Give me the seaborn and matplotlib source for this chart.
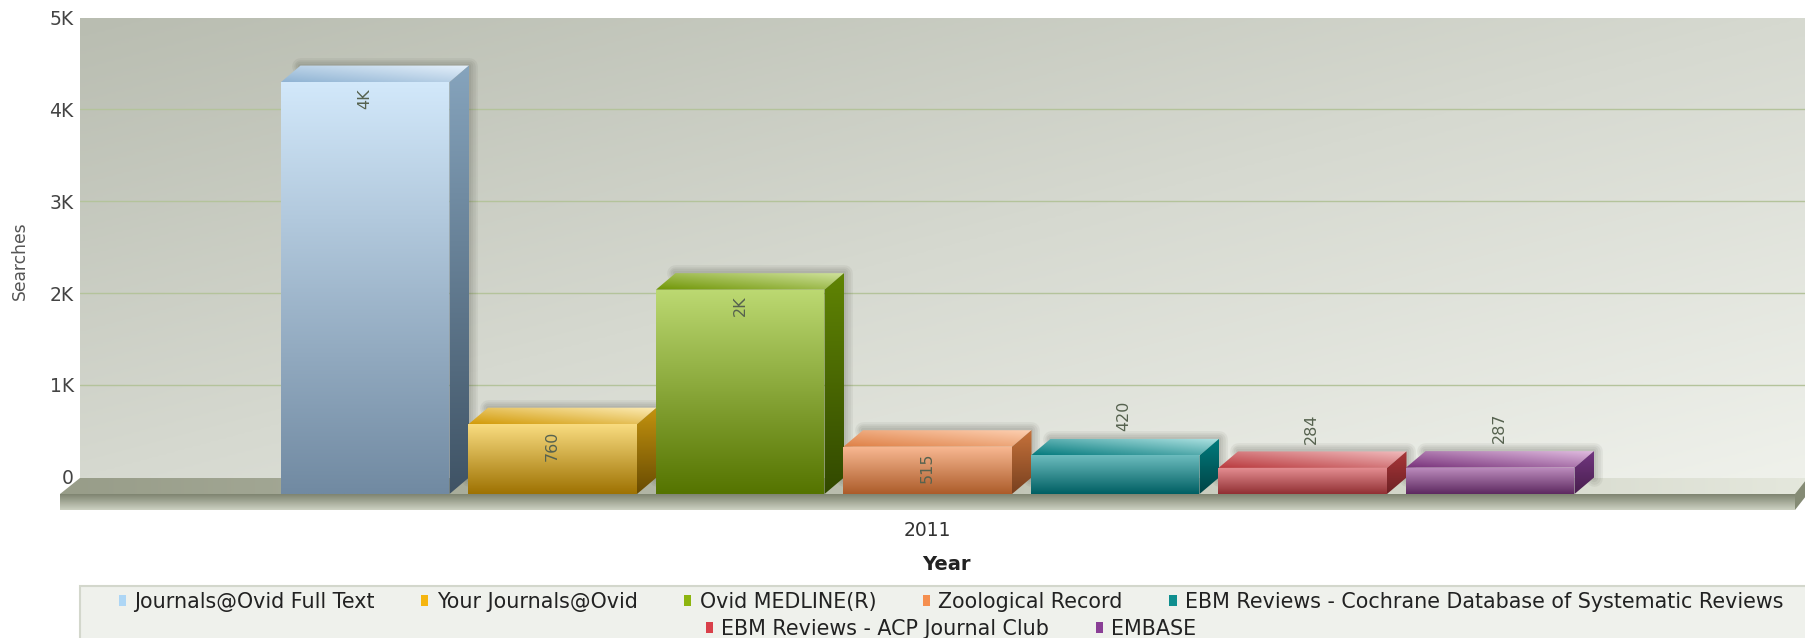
import numpy as np
import pandas as pd
import matplotlib
matplotlib.use("Agg")
import matplotlib.pyplot as plt
import seaborn as sns
from matplotlib.colors import LinearSegmentedColormap
from matplotlib.patches import Patch, Polygon, Rectangle

# Values
series = ["Journals@Ovid Full Text", "Your Journals@Ovid", "Ovid MEDLINE(R)", "Zoological Record",
          "EBM Reviews - Cochrane Database of Systematic Reviews", "EBM Reviews - ACP Journal Club", "EMBASE"]
searches = [4485, 760, 2225, 515, 420, 284, 287]
value_labels = ["4K", "760", "2K", "515", "420", "284", "287"]
year = "2011"
y_ticks = [0, 1000, 2000, 3000, 4000, 5000]
y_tick_labels = ["0", "1K", "2K", "3K", "4K", "5K"]

# Colours: legend, front top/bottom, top face left/right, side top/bottom
legend_colors = ["#add6f5", "#f5b50f", "#8db50f", "#f58f4f", "#0f8f8f", "#d9404a", "#8a3f96"]
front_colors = [("#d2e8fa", "#718aa2"), ("#f9dc80", "#9e7202"), ("#bcd972", "#557400"), ("#f9b993", "#ac5c2a"),
                ("#6cbcbe", "#005f63"), ("#e69094", "#913033"), ("#be8ebf", "#5d2960")]
top_colors = [("#8fb3d3", "#e6f1fb"), ("#d29a08", "#fdedb8"), ("#6f9504", "#cfe29c"), ("#de7f44", "#fdd0b2"),
              ("#047a7d", "#b2e4e4"), ("#b9393d", "#f1bcbe"), ("#773079", "#e0bce0")]
side_colors = [("#86a4bd", "#3f5365"), ("#c4930f", "#684b02"), ("#608404", "#324900"), ("#c6723b", "#78401f"),
               ("#007c7e", "#004345"), ("#aa3639", "#6d2124"), ("#723680", "#481f4e")]

W, H = 1806, 638
sns.set_theme(style="white")
plt.rcParams["font.family"] = ["DejaVu Sans"]
fig = plt.figure(figsize=(W / 100, H / 100), dpi=100, facecolor="white")


def px_axes(left, top, right, bottom, **kw):
    return fig.add_axes([left / W, 1 - bottom / H, (right - left) / W, (bottom - top) / H], **kw)


def gradient(ax, xy, c1, c2, mode="vertical", zorder=2):
    # fill a polygon with a two colour gradient
    xy = np.array(xy)
    poly = Polygon(xy, closed=True, fc="none", ec="none", transform=ax.transData)
    ax.add_patch(poly)
    uu, vv = np.meshgrid(np.linspace(0, 1, 128), np.linspace(0, 1, 128))
    if mode == "vertical":
        ramp = vv
    elif mode == "horizontal":
        ramp = uu
    else:
        ramp = (uu + (1 - vv)) / 2
    cmap = LinearSegmentedColormap.from_list("g", [c1, c2])
    im = ax.imshow(ramp, cmap=cmap, aspect="auto", origin="upper", zorder=zorder, interpolation="bilinear",
                   extent=(xy[:, 0].min(), xy[:, 0].max(), xy[:, 1].min(), xy[:, 1].max()))
    im.set_clip_path(poly)


# Background: wall, floor, legend box in pixel coordinates
bg = px_axes(0, 0, W, H)
bg.set_xlim(0, W)
bg.set_ylim(H, 0)
bg.axis("off")
uu, vv = np.meshgrid(np.linspace(0, 1, 200), np.linspace(0, 1, 200))
wall_cmap = LinearSegmentedColormap.from_list("wall", ["#b9bdb1", "#d6d9d0", "#eff1eb"])
bg.imshow((uu + vv) / 2, cmap=wall_cmap, aspect="auto", origin="upper", extent=(80, W, 478, 18), vmin=0, vmax=1)
gradient(bg, [(80, 478), (W, 478), (W, 494), (60, 494)], "#989d89", "#e4e7dc", mode="horizontal")
gradient(bg, [(60, 494), (1795, 494), (1795, 510), (60, 510)], "#cdd1c2", "#7e8470")
bg.add_patch(Polygon([(1795, 494), (W, 480), (W, 496), (1795, 510)], fc="#858b75", ec="none", zorder=3))
bg.add_patch(Rectangle((80, 586), W, 100, fc="#eff1ec", ec="#d3d7cc", lw=1.5))
bg.set_xlim(0, W)
bg.set_ylim(H, 0)

# Wall axis: ticks and grid lines
ax = px_axes(80, 17.5, W, 476.7, facecolor="none")
ax.set_ylim(0, 5000)
ax.set_xlim(0, 1)
ax.set_xticks([])
ax.set_yticks(y_ticks)
ax.set_yticklabels(y_tick_labels, fontsize=13.5, color="#444444")
ax.tick_params(axis="y", length=0, pad=4.5)
for v in y_ticks[1:-1]:
    ax.axhline(v, color="#b4c39b", lw=1)
sns.despine(ax=ax, left=True, bottom=True)
ax.set_ylabel("Searches", fontsize=12.3, color="#555555")
ax.yaxis.set_label_coords((29 - 80) / (W - 80), 1 - (261 - 17.5) / 459.2)

# Bars sit on the front of the floor
ax2 = px_axes(60.5, 34.8, W - 19.5, 494, facecolor="none")
df = pd.DataFrame({"series": series, "searches": searches})
sns.barplot(data=df, x="series", y="searches", hue="series", hue_order=series, order=series, palette=legend_colors,
            width=168.5 / 187.5, legend=False, ax=ax2, zorder=2.5, linewidth=0, edgecolor="none")
ax2.set_xlim(-(365.25 - 60.5) / 187.5, (W - 19.5 - 365.25) / 187.5)
ax2.set_ylim(0, 5000)
sns.despine(ax=ax2, left=True, bottom=True)
ax2.set_yticks([])
ax2.set_ylabel("")
ax2.set_xticks([3])
ax2.set_xticklabels([year], fontsize=13.5, color="#333333")
ax2.tick_params(axis="x", length=0, pad=19.5)
ax2.set_xlabel("Year", fontsize=14, fontweight="bold", color="#222222")
ax2.xaxis.set_label_coords((946 - 60.5) / (W - 19.5 - 60.5), (494 - 565) / 459.2)
ax2.xaxis.label.set_verticalalignment("center")

# 3D depth of the bars
dx = 19.5 / 187.5
dy = 16.5 / 459.2 * 5000
for i, bar in enumerate(ax2.patches):
    x0, x1 = bar.get_x(), bar.get_x() + bar.get_width()
    h = bar.get_height()
    # soft shadow on the top and right edges only
    outline = [(x0 + dx, h + dy), (x1 + dx, h + dy), (x1 + dx, dy)]
    for lw in [12, 9, 6, 3]:
        ax2.add_patch(Polygon(outline, closed=False, fc="none", ec="#2c2c22", lw=lw, alpha=0.06, zorder=1, joinstyle="round", capstyle="round"))
    gradient(ax2, [(x0, h), (x0 + dx, h + dy), (x1 + dx, h + dy), (x1, h)], *top_colors[i], mode="diagonal")
    gradient(ax2, [(x1, 0), (x1, h), (x1 + dx, h + dy), (x1 + dx, dy)], *side_colors[i])
    gradient(ax2, [(x0, 0), (x0, h), (x1, h), (x1, 0)], *front_colors[i], zorder=3)
    # big bars carry the label inside, small ones above
    if h >= 500:
        ax2.annotate(value_labels[i], (bar.get_x() + bar.get_width() / 2, h), xytext=(0, -4.3), textcoords="offset points",
                     rotation=90, ha="center", va="top", fontsize=11.5, color="#56624f", zorder=4)
    else:
        ax2.annotate(value_labels[i], (bar.get_x() + bar.get_width() / 2, h), xytext=(6.3, 17.5), textcoords="offset points",
                     rotation=90, ha="center", va="bottom", fontsize=11.5, color="#56624f", zorder=4)
ax2.set_xlim(-(365.25 - 60.5) / 187.5, (W - 19.5 - 365.25) / 187.5)
ax2.set_ylim(0, 5000)

# Legend, two centred rows
handles = [Patch(fc=c, ec="none") for c in legend_colors]
legend_kw = dict(frameon=False, fontsize=14.9, handlelength=0.35, handleheight=0.45, handletextpad=0.4,
                 columnspacing=2.25, borderpad=0, labelcolor="#222222", loc="center", bbox_transform=fig.transFigure)
row1 = fig.legend(handles[:5], series[:5], ncols=5, bbox_to_anchor=(951 / W, 1 - 602 / H), **legend_kw)
row2 = fig.legend(handles[5:], series[5:], ncols=2, bbox_to_anchor=(951 / W, 1 - 629 / H), **legend_kw)

fig.savefig("out.png", dpi=100)
